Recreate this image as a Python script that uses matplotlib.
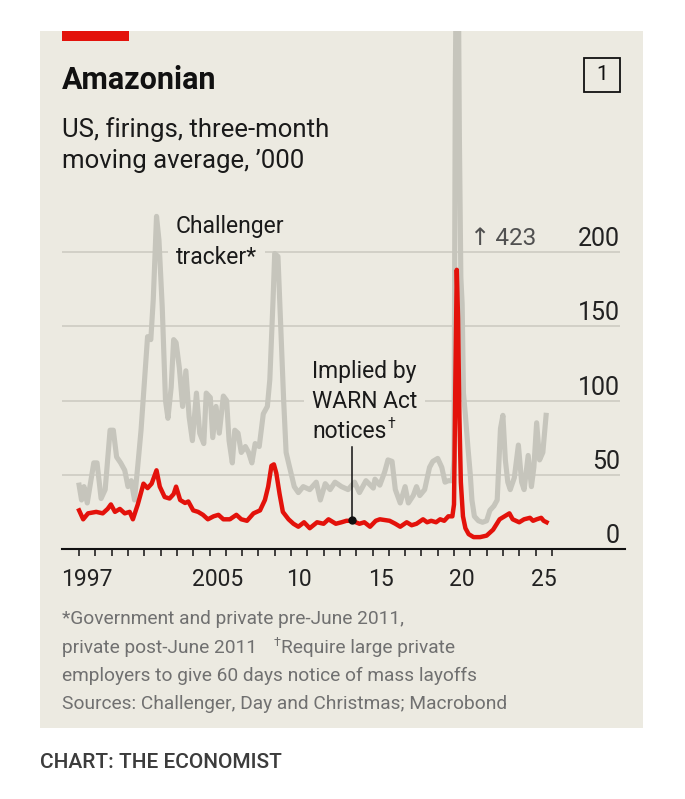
import matplotlib
matplotlib.use("Agg")
import matplotlib.pyplot as plt
from matplotlib.patches import Rectangle

plt.rcParams['font.family'] = ['Roboto', 'DejaVu Sans']

# Challenger tracker, three-month moving average, '000
challenger_years = [
    1997.0, 1997.15, 1997.3, 1997.5, 1997.9, 1998.1, 1998.35, 1998.6, 1998.9, 1999.1,
    1999.3, 1999.55, 1999.8, 2000.0, 2000.2, 2000.4, 2000.6, 2000.8, 2001.05, 2001.2,
    2001.4, 2001.55, 2001.75, 2001.9, 2002.1, 2002.3, 2002.45, 2002.65, 2002.8, 2002.95,
    2003.15, 2003.35, 2003.55, 2003.75, 2003.95, 2004.2, 2004.4, 2004.65, 2004.8, 2005.05,
    2005.2, 2005.4, 2005.6, 2005.85, 2006.05, 2006.2, 2006.4, 2006.55, 2006.75, 2006.95,
    2007.2, 2007.4, 2007.6, 2007.8, 2008.05, 2008.3, 2008.55, 2008.7, 2008.9, 2009.0,
    2009.2, 2009.35, 2009.55, 2009.7, 2009.85, 2010.2, 2010.45, 2010.75, 2011.15, 2011.55,
    2011.8, 2012.1, 2012.4, 2012.7, 2013.1, 2013.5, 2013.9, 2014.2, 2014.6, 2015.05,
    2015.15, 2015.45, 2015.75, 2015.95, 2016.2, 2016.4, 2016.7, 2017.0, 2017.2, 2017.5,
    2017.7, 2017.9, 2018.2, 2018.5, 2018.7, 2019.0, 2019.25, 2019.45, 2019.65, 2019.9,
    2020.0, 2020.08, 2020.17, 2020.25, 2020.33, 2020.42, 2020.5, 2020.58, 2020.7, 2020.85,
    2021.0, 2021.1, 2021.25, 2021.5, 2021.75, 2022.0, 2022.2, 2022.45, 2022.65, 2022.85,
    2023.0, 2023.15, 2023.3, 2023.45, 2023.7, 2023.95, 2024.15, 2024.3, 2024.55, 2024.75,
    2024.9, 2025.07, 2025.25, 2025.45, 2025.65,
]
challenger_values = [
    43, 33, 42, 31, 58, 58, 34, 40, 80, 80,
    62, 58, 53, 42, 46, 33, 56, 80, 120, 143,
    141, 168, 224, 208, 163, 100, 88, 109, 141, 139,
    122, 96, 120, 89, 73, 105, 78, 71, 105, 102,
    75, 96, 78, 103, 100, 73, 58, 80, 78, 65,
    69, 65, 58, 71, 69, 91, 96, 114, 168, 199,
    197, 156, 100, 65, 58, 42, 38, 42, 40, 45,
    33, 44, 40, 45, 42, 40, 45, 38, 46, 41,
    47, 43, 52, 60, 59, 40, 31, 42, 31, 36,
    42, 36, 40, 55, 59, 61, 55, 45, 46, 46,
    60, 316, 423, 413, 277, 183, 165, 105, 90, 69,
    50, 33, 22, 19, 18, 19, 26, 29, 33, 81,
    90, 60, 45, 40, 48, 70, 45, 40, 63, 42,
    55, 85, 60, 65, 90,
]

# Implied by WARN Act notices, '000
warn_years = [
    1997.0, 1997.25, 1997.55, 1998.05, 1998.45, 1998.75, 1998.95, 1999.2, 1999.5, 1999.8,
    2000.1, 2000.3, 2000.6, 2000.95, 2001.2, 2001.45, 2001.75, 2001.95, 2002.25, 2002.55,
    2002.8, 2002.95, 2003.2, 2003.5, 2003.7, 2004.0, 2004.3, 2004.6, 2004.9, 2005.25,
    2005.55, 2005.85, 2006.25, 2006.65, 2006.95, 2007.3, 2007.7, 2008.1, 2008.4, 2008.6,
    2008.8, 2008.95, 2009.1, 2009.3, 2009.5, 2009.85, 2010.15, 2010.45, 2010.8, 2011.15,
    2011.6, 2012.0, 2012.3, 2012.75, 2013.1, 2013.4, 2013.74, 2014.2, 2014.5, 2014.85,
    2015.2, 2015.45, 2016.05, 2016.4, 2016.7, 2017.1, 2017.4, 2017.7, 2018.1, 2018.35,
    2018.6, 2018.9, 2019.15, 2019.4, 2019.65, 2019.9, 2020.0, 2020.08, 2020.17, 2020.25,
    2020.33, 2020.42, 2020.55, 2020.7, 2020.9, 2021.2, 2021.6, 2022.0, 2022.4, 2022.8,
    2023.1, 2023.4, 2023.6, 2024.0, 2024.3, 2024.66, 2024.85, 2025.07, 2025.35, 2025.5,
    2025.68,
]
warn_values = [
    26, 20, 24, 25, 24, 27, 30, 25, 27, 24,
    25, 20, 30, 44, 41, 44, 53, 42, 35, 34,
    37, 42, 33, 31, 32, 26, 25, 23, 20, 22,
    23, 20, 20, 23, 20, 19, 24, 26, 33, 42,
    56, 57, 51, 37, 25, 20, 17, 15, 18, 14,
    18, 17, 20, 17, 18, 19, 19, 17, 18, 15,
    19, 20, 19, 17, 15, 18, 16, 17, 20, 18,
    19, 18, 20, 19, 22, 22, 30, 110, 188, 155,
    90, 45, 22, 14, 10, 8, 8, 9, 13, 20,
    22, 24, 20, 18, 20, 21, 19, 20, 21, 19,
    18,
]

y_ticks = [0, 50, 100, 150, 200]
x_tick_years = list(range(1997, 2027))
x_label_years = [1997, 2005, 2010, 2015, 2020, 2025]
x_labels = ['1997', '2005', '10', '15', '20', '25']

W, H = 685, 799
BG = '#ECEAE1'
RED = '#E3120B'
GREY = '#C6C5BC'
GRID = '#CBC9C0'


def fx(px):
    return px / W


def fy(py):
    return 1 - py / H


def year_at(px):
    return 2010 + (px - 291) / 16.3


def val_at(py):
    return (549 - py) / 1.485


fig = plt.figure(figsize=(6.85, 7.99), dpi=100)
fig.patch.set_facecolor('white')
fig.add_artist(Rectangle((fx(40), fy(728)), fx(643) - fx(40), fy(31) - fy(728),
                         transform=fig.transFigure, facecolor=BG, edgecolor='none', zorder=0))
fig.add_artist(Rectangle((fx(62), fy(41)), fx(129) - fx(62), fy(31) - fy(41),
                         transform=fig.transFigure, facecolor=RED, edgecolor='none'))

# title block
fig.text(fx(62), fy(89), 'Amazonian', fontsize=22, fontweight='bold', color='#111111',
         ha='left', va='baseline')
fig.text(fx(62), fy(137), 'US, firings, three-month', fontsize=18.5, color='#1a1a1a',
         ha='left', va='baseline')
fig.text(fx(62), fy(168), "moving average, ’000", fontsize=18.5, color='#1a1a1a',
         ha='left', va='baseline')
fig.add_artist(Rectangle((fx(584), fy(92)), fx(620) - fx(584), fy(58) - fy(92),
                         transform=fig.transFigure, facecolor='none', edgecolor='#111111', lw=1.3))
fig.text(fx(602), fy(75), '1', fontsize=15, color='#111111', ha='center', va='center')

ax = fig.add_axes([fx(62), fy(549), fx(625) - fx(62), fy(31) - fy(549)])
ax.set_facecolor('none')
x0, x1 = year_at(62), year_at(625)
xg = year_at(620)
ax.set_xlim(x0, x1)
ax.set_ylim(0, val_at(31))

for v in y_ticks[1:]:
    ax.plot([x0, xg], [v, v], color=GRID, lw=1.1, zorder=1, solid_capstyle='butt')
for v in y_ticks:
    ax.text(xg, v + 4, str(v), ha='right', va='baseline', fontsize=18, color='#222222')

ax.plot(challenger_years, challenger_values, color=GREY, lw=3.7, zorder=2,
        solid_joinstyle='round')
ax.plot(warn_years, warn_values, color=RED, lw=3.2, zorder=3, solid_joinstyle='round')

for s in ['top', 'left', 'right']:
    ax.spines[s].set_visible(False)
ax.spines['bottom'].set_linewidth(1.5)
ax.spines['bottom'].set_color('#111111')
ax.set_yticks([])
ax.set_xticks(x_tick_years)
ax.set_xticklabels([])
ax.tick_params(axis='x', which='major', length=5, width=1.1, color='#111111', direction='out')
ax.set_xticks([y + 0.5 for y in x_label_years], minor=True)
ax.set_xticklabels(x_labels, minor=True, fontsize=16.5, color='#222222')
ax.tick_params(axis='x', which='minor', length=0, pad=14)

# labels; the ones that sit on a gridline get a background box to break the line
box = dict(boxstyle='square,pad=0.35', fc=BG, ec='none')
lab = dict(fontsize=16.5, color='#1a1a1a', ha='left', va='baseline')
ax.text(year_at(176), val_at(233), 'Challenger', **lab)
ax.text(year_at(176), val_at(264), 'tracker*', bbox=box, zorder=1.5, **lab)
ax.text(year_at(312), val_at(378), 'Implied by', **lab)
ax.text(year_at(312), val_at(408), 'WARN Act', bbox=box, zorder=1.5, **lab)
ax.text(year_at(312), val_at(438), 'notices', **lab)
ax.text(year_at(387), val_at(428), '†', fontsize=10, color='#1a1a1a', ha='left', va='baseline')
ax.text(year_at(470), val_at(245), '↑\u2009423', fontsize=17.5, color='#505050',
        ha='left', va='baseline')

lead_x = year_at(352)
ax.plot([lead_x, lead_x], [val_at(520), val_at(447)], color='#111111', lw=1.1, zorder=5)
ax.plot([lead_x], [val_at(520)], 'o', ms=5, color='#111111', zorder=6)

# footnotes
foot = dict(fontsize=13.8, color='#707070', ha='left', va='center')
fig.text(fx(62), fy(619), '*Government and private pre-June 2011,', **foot)
fig.text(fx(62), fy(648), 'private post-June 2011', **foot)
fig.text(fx(274), fy(642), '†', fontsize=9, color='#707070', ha='left', va='center')
fig.text(fx(281), fy(648), 'Require large private', **foot)
fig.text(fx(62), fy(676), 'employers to give 60 days notice of mass layoffs', **foot)
fig.text(fx(62), fy(704), 'Sources: Challenger, Day and Christmas; Macrobond', **foot)

fig.text(fx(40), fy(762), 'CHART: THE ECONOMIST', fontsize=15, fontweight='medium',
         color='#3c3c3c', ha='left', va='center')

fig.savefig('out.png', dpi=100, facecolor='white')
